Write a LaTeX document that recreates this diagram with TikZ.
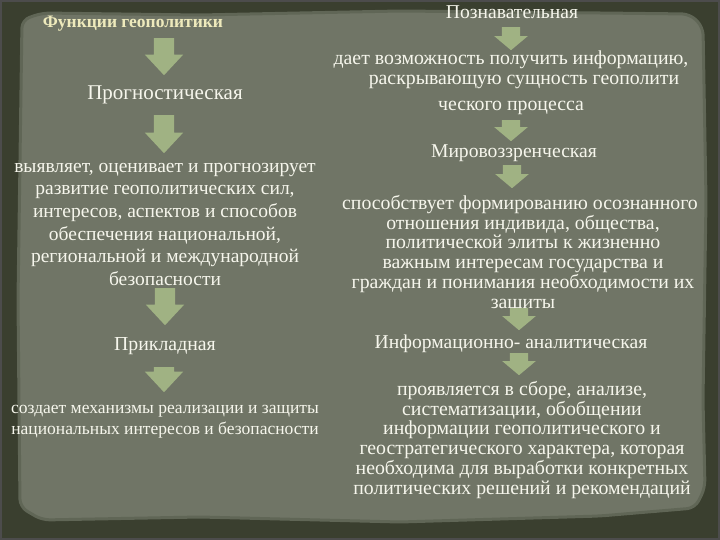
\documentclass[tikz,border=0pt]{standalone}
\usepackage{fontspec}
\setmainfont{Liberation Serif}
\usetikzlibrary{shapes.arrows}
\usetikzlibrary{positioning}
\definecolor{framegreen}{RGB}{58,63,47}
\definecolor{parchment}{RGB}{112,117,102}
\definecolor{parchedge}{RGB}{96,102,86}
\definecolor{arrowgreen}{RGB}{160,178,131}
\definecolor{chalk}{RGB}{246,246,236}
\definecolor{cream}{RGB}{238,234,188}
\tikzset{
heading/.style={text=chalk, inner sep=0pt, anchor=base, font=\fontsize{19.6}{22}\selectfont},
leftbody/.style={text=chalk, inner sep=0pt, anchor=north, align=center, font=\fontsize{19.5}{22.6}\selectfont},
rightbody/.style={text=chalk, inner sep=0pt, anchor=north, align=center, font=\fontsize{19.8}{19.8}\selectfont},
bigarrow/.style={single arrow, fill=arrowgreen, draw=none, rotate=-90, anchor=tail,
	minimum height=37pt, inner xsep=0pt, inner ysep=10pt, single arrow head extend=9pt,
	single arrow tip angle=86},
smallarrow/.style={bigarrow, minimum height=23pt, inner ysep=9pt, single arrow head extend=7.5pt,
	single arrow tip angle=100},
}
\begin{document}
\begin{tikzpicture}[x=1pt, y=-1pt]
%Background
\fill[framegreen] (0,0) rectangle (720,540);
\draw[black!70, line width=1.5pt] (1,1) rectangle (719,539);
\fill[parchment, draw=parchedge, line width=3pt, rounded corners=8pt]
	(22,20) -- (42,13) -- (200,15) -- (400,11) -- (600,13) -- (690,14) -- (703,27)
	-- (706,200) -- (703,400) -- (705,488) -- (695,508) -- (600,516) -- (400,522)
	-- (200,517) -- (42,520) -- (20,507) -- (18,300) -- cycle;
\path[use as bounding box] (0,0) rectangle (720,540);

%Left column
\node[heading, text=cream, font=\bfseries\fontsize{17.5}{20}\selectfont] (title) at (133,28) {Функции геополитики};
\node[bigarrow] (la1) at (164,38) {};
\node[heading, font=\fontsize{21}{22}\selectfont] (progn) at (165,100) {Прогностическая};
\node[bigarrow, minimum height=38pt] (la2) at (164,115) {};
\node[leftbody] (prognText) at (165,163) {выявляет, оценивает и прогнозирует\\
	развитие геополитических сил,\\
	интересов, аспектов и способов\\
	обеспечения национальной,\\
	региональной и международной\\
	безопасности};
\node[bigarrow] (la3) at (165,288) {};
\node[heading, font=\fontsize{19.8}{22}\selectfont] (prikl) at (165,350) {Прикладная};
\node[bigarrow, minimum height=25pt] (la4) at (164,367) {};
\node[leftbody, font=\fontsize{17.5}{21.5}\selectfont] (priklText) at (165,405) {создает механизмы реализации и защиты\\
	национальных интересов и безопасности};

%Right column
\node[heading] (pozn) at (512,19) {Познавательная};
\node[smallarrow] (ra1) at (511,27) {};
\node[rightbody] (poznText) at (511,51) {дает возможность получить информацию,\\
	\hspace*{26pt}раскрывающую сущность геополити\\[6pt]
	ческого процесса};
\node[smallarrow, minimum height=21pt] (ra2) at (511,120) {};
\node[heading] (mirov) at (514,158) {Мировоззренческая};
\node[smallarrow] (ra3) at (512,165) {};
\node[rightbody] (mirovText) at (523,195) {способствует формированию осознанного\hspace*{6pt}\\
	отношения индивида, общества,\\
	политической элиты к жизненно\\
	важным интересам государства и\\
	граждан и понимания необходимости их\\
	защиты};
\node[smallarrow, minimum height=22pt] (ra4) at (519,308) {};
\node[heading] (inform) at (511,348) {Информационно- аналитическая};
\node[smallarrow, minimum height=22pt] (ra5) at (519,353) {};
\node[rightbody] (informText) at (522,381) {проявляется в сборе, анализе,\\
	систематизации, обобщении\\
	информации геополитического и\\
	геостратегического характера, которая\\
	необходима для выработки конкретных\\
	политических решений и рекомендаций};
\end{tikzpicture}
\end{document}
